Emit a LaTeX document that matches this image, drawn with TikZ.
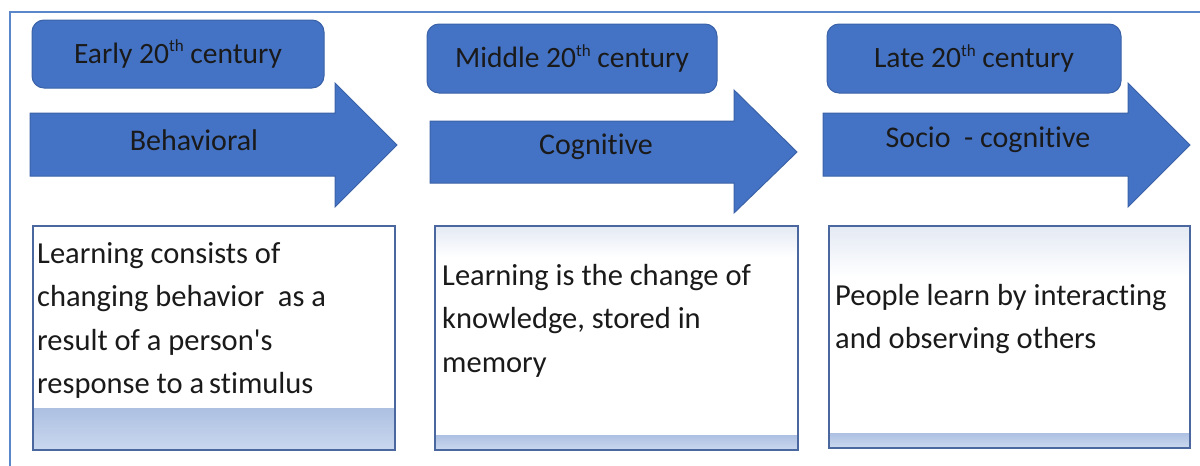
\documentclass[tikz,border=0pt]{standalone}
\usepackage{fontspec}
\setmainfont{Carlito}[Ligatures={NoCommon}]
\definecolor{oblue}{HTML}{4472C4}
\definecolor{oedge}{HTML}{3A62A8}
\definecolor{boxedge}{HTML}{4A67A0}
\definecolor{frameblue}{HTML}{5B86C9}
\definecolor{bandA}{HTML}{ADC0E2}
\definecolor{bandB}{HTML}{C9D7EE}
\definecolor{topA}{HTML}{E3E9F3}
\definecolor{txt}{HTML}{1A1A1A}
\newcommand{\thsup}{\raisebox{0.38em}{\fontsize{17}{17}\selectfont th}}
\begin{document}
\begin{tikzpicture}[x=1pt,y=-1pt,
  head/.style={draw=oedge, line width=1pt, fill=oblue, rounded corners=12pt, inner sep=0pt,
    text=txt, font=\fontsize{29.5}{35}\selectfont},
  shaftarrow/.style={draw=oedge, line width=1pt, fill=oblue},
  lbl/.style={text=txt, inner sep=0pt, font=\fontsize{30}{35}\selectfont},
  descbox/.style={draw=boxedge, line width=1.8pt, inner sep=0pt, anchor=north west},
  body/.style={text=txt, inner sep=0pt, align=left, anchor=north west,
    font=\fontsize{30.5}{43.5}\selectfont},
  band/.style={top color=bandA, bottom color=bandB},
  topband/.style={top color=topA, bottom color=white}]
\useasboundingbox (0,0) rectangle (1200,466);
\fill[white] (0,0) rectangle (1200,466);
% outer frame
\draw[frameblue, line width=2pt] (9.5,466) -- (9.5,11.5) -- (1200,11.5);

% headers
\node[head, minimum width=292pt, minimum height=68pt] (h1) at (178,54) {Early 20\thsup\ century};
\node[head, minimum width=290pt, minimum height=69pt] (h2) at (572,58.5) {Middle 20\thsup\ century};
\node[head, minimum width=294pt, minimum height=69pt] (h3) at (974,58.5) {Late 20\thsup\ century};

% arrows
\filldraw[shaftarrow] (30,113) -- (335,113) -- (335,83) -- (397,145) -- (335,207) -- (335,176) -- (30,176) -- cycle;
\filldraw[shaftarrow] (430,121) -- (734,121) -- (734,90) -- (797,152) -- (734,213) -- (734,183) -- (430,183) -- cycle;
\filldraw[shaftarrow] (823,113) -- (1128,113) -- (1128,83) -- (1190,145) -- (1128,207) -- (1128,176) -- (823,176) -- cycle;
\node[lbl] (a1) at (194,140) {Behavioral};
\node[lbl] (a2) at (596,147) {Cognitive};
\node[lbl] (a3) at (988,140) {Socio~ - cognitive};

% description boxes: bands
\shade[band] (32,408) rectangle (394,449);
\shade[topband] (434,225) rectangle (797,257);
\shade[band] (434,435) rectangle (797,449);
\shade[topband] (828,225) rectangle (1189,277);
\shade[band] (828,433) rectangle (1189,447);
\node[descbox, minimum width=362pt, minimum height=224pt] (b1) at (32,225) {};
\node[descbox, minimum width=363pt, minimum height=224pt] (b2) at (434,225) {};
\node[descbox, minimum width=361pt, minimum height=222pt] (b3) at (828,225) {};

% texts
\node[body] (t1) at (37,238) {\rule{0pt}{25pt}Learning consists of\\changing behavior~ as a\\result of a person\textquotesingle s\\response to a\,stimulus};
\node[body] (t2) at (442,260) {\rule{0pt}{25pt}Learning is the change of\\knowledge, stored in\\memory};
\node[body] (t3) at (835,280) {\rule{0pt}{25pt}People learn by interacting\\and observing others};
\end{tikzpicture}
\end{document}
